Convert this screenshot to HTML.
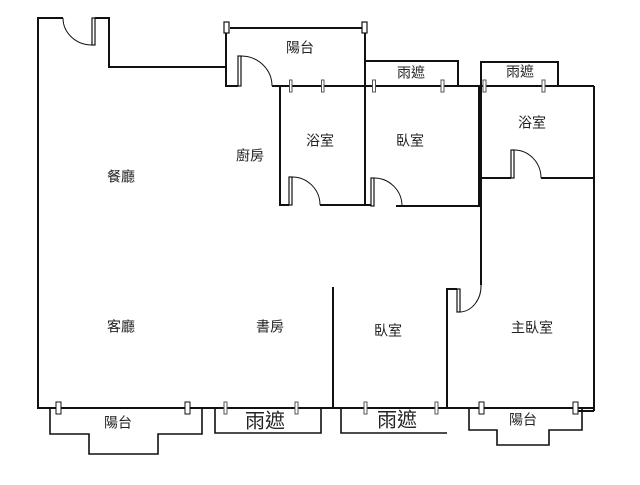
<!DOCTYPE html>
<html><head><meta charset="utf-8"><style>
html,body{margin:0;padding:0;background:#fff}
text{font-family:"Liberation Sans","Noto Sans CJK TC",sans-serif;fill:#222;text-anchor:middle;dominant-baseline:middle}
</style></head><body>
<svg width="640" height="480" viewBox="0 0 640 480" xmlns="http://www.w3.org/2000/svg">
<g stroke="#111" stroke-width="2" fill="none">
<!-- outer top-left -->
<polyline points="63,18 38,18 38,408 594,408"/>
<path d="M63,18 A29,27 0 0 0 92,45" stroke-width="1"/>
<rect x="92" y="18" width="3" height="27" stroke-width="1.2"/>
<polyline points="95,18 109,18 109,67 226,67"/>
<!-- top balcony -->
<polyline points="226,33 226,86 238,86"/>
<line x1="230" y1="28" x2="363" y2="28"/>
<line x1="365" y1="33" x2="365" y2="205"/>
<rect x="224" y="22" width="5" height="11" stroke-width="1.2" fill="#fff"/>
<rect x="362" y="22" width="5" height="11" stroke-width="1.2" fill="#fff"/>
<rect x="238" y="56" width="3" height="30" stroke-width="1.2"/>
<path d="M241,56 A31,30 0 0 1 272,86" stroke-width="1"/>
<line x1="272" y1="86" x2="594" y2="86"/>
<!-- bath1 -->
<polyline points="280,86 280,205 289,205"/>
<rect x="289" y="177" width="3" height="28" stroke-width="1.2"/>
<path d="M292,177 A28,28 0 0 1 320,205" stroke-width="1"/>
<line x1="320" y1="205" x2="365" y2="205"/>
<!-- rain shelter 1 -->
<polyline points="365,61 458,61 458,86"/>
<!-- bedroom -->
<line x1="365" y1="205" x2="371" y2="205"/>
<rect x="371" y="178" width="3" height="28" stroke-width="1.2"/>
<path d="M374,178 A28,28 0 0 1 402,206" stroke-width="1"/>
<polyline points="396,206 479,206 479,86"/>
<!-- rain shelter 2 -->
<polyline points="481,86 481,62 558,62 558,86"/>
<!-- bath2 -->
<line x1="481" y1="86" x2="481" y2="285"/>
<polyline points="594,86 594,411"/>
<line x1="481" y1="178" x2="511" y2="178"/>
<rect x="511" y="150" width="3" height="28" stroke-width="1.2"/>
<path d="M514,150 A27,28 0 0 1 541,178" stroke-width="1"/>
<line x1="541" y1="178" x2="594" y2="178"/>
<!-- master door -->
<polyline points="447,408 447,289 457,289"/>
<rect x="457" y="289" width="3" height="23" stroke-width="1.2"/>
<path d="M460,312 A22,26 0 0 0 481,285" stroke-width="1"/>
<!-- bedroom3 left wall -->
<line x1="333" y1="287" x2="333" y2="408"/>
<line x1="578" y1="411" x2="594" y2="411"/>
<!-- bottom balconies -->
<polyline points="50,408 50,434 89,434 89,454 158,454 158,434 202,434 202,408" stroke-width="1.6"/>
<polyline points="215,408 215,433 321,433 321,408" stroke-width="1.6"/>
<polyline points="341,408 341,433 447,433" stroke-width="1.6"/>
<polyline points="469,408 469,430 497,430 497,445 549,445 549,430 582,430 582,408" stroke-width="1.6"/>
</g>
<g stroke="#111" stroke-width="1" fill="#fff">
<rect x="56" y="402" width="5" height="12"/>
<rect x="185" y="402" width="5" height="12"/>
<rect x="479" y="402" width="5" height="12"/>
<rect x="573" y="402" width="5" height="12"/>
</g>
<g stroke="#555" stroke-width="1" fill="#fff">
<rect x="289.5" y="80" width="2.5" height="12"/>
<rect x="321.5" y="80" width="2.5" height="12"/>
<rect x="372.5" y="80" width="3" height="12"/>
<rect x="441" y="80" width="3" height="12"/>
<rect x="483" y="80" width="3" height="12"/>
<rect x="542" y="80" width="3" height="12"/>
<rect x="224" y="402" width="3" height="12"/>
<rect x="295" y="402" width="3" height="12"/>
<rect x="364" y="402" width="3" height="12"/>
<rect x="435" y="402" width="3" height="12"/>
</g>
<g font-size="14">
<text x="300" y="49">陽台</text>
<text x="411" y="74">雨遮</text>
<text x="520" y="73">雨遮</text>
<text x="250" y="157">廚房</text>
<text x="320" y="142">浴室</text>
<text x="410" y="142">臥室</text>
<text x="532" y="124">浴室</text>
<text x="121" y="178">餐廳</text>
<text x="121" y="328">客廳</text>
<text x="270" y="328">書房</text>
<text x="388" y="332">臥室</text>
<text x="532" y="329">主臥室</text>
<text x="118" y="424">陽台</text>
<text x="523" y="421">陽台</text>
</g>
<g font-size="20">
<text x="265" y="422">雨遮</text>
<text x="397" y="421">雨遮</text>
</g>
</svg>
</body></html>
